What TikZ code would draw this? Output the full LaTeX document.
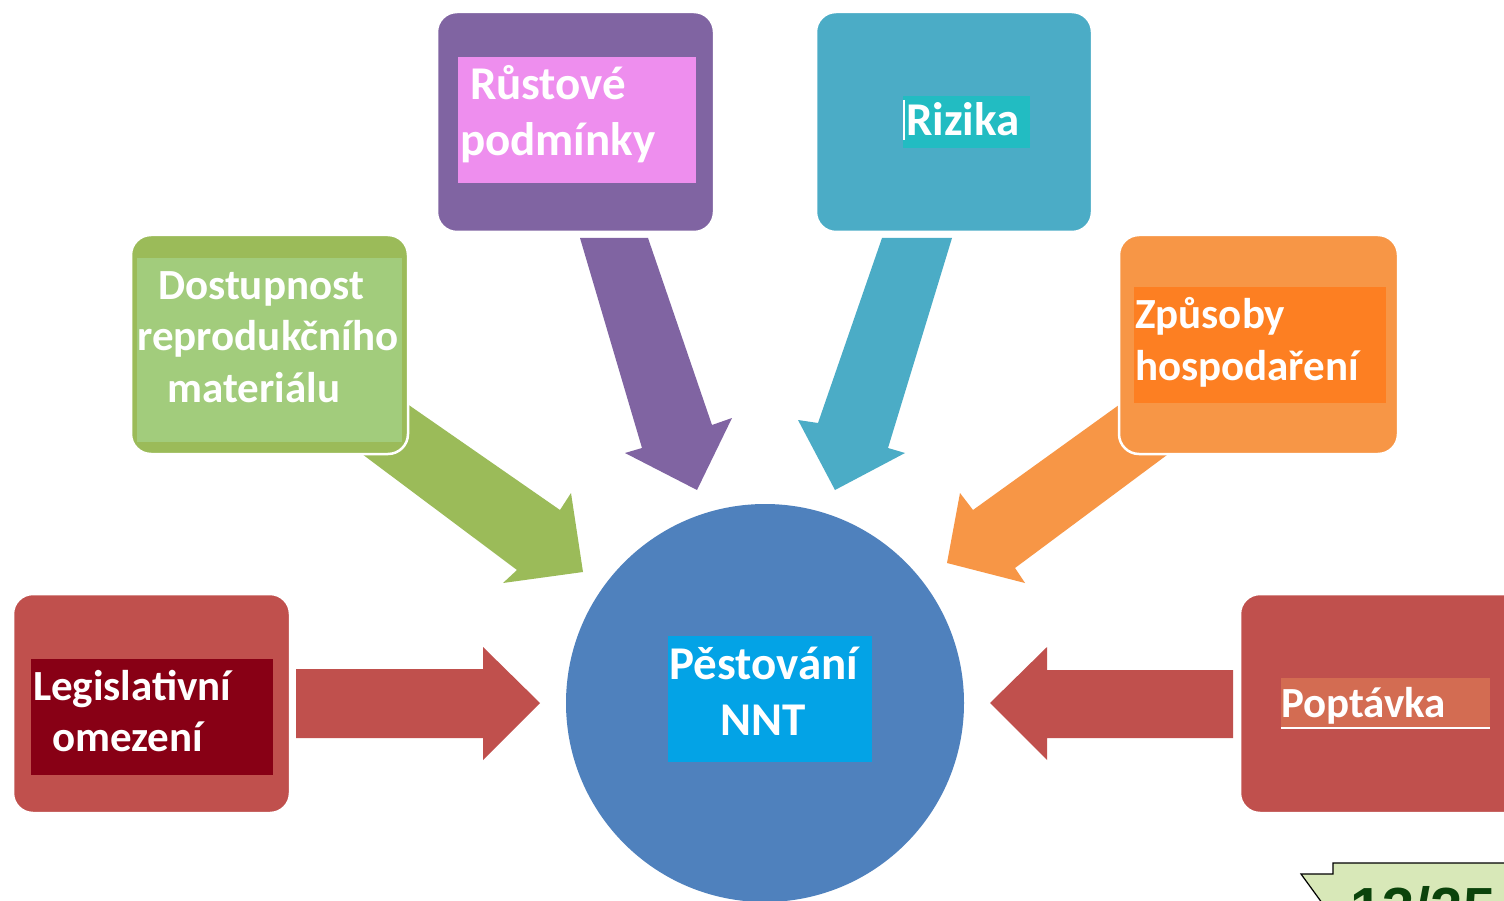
\documentclass[tikz,border=0pt]{standalone}
\usepackage{fontspec}
\setmainfont{Carlito}
\newfontfamily\badgefont{Liberation Sans}
\definecolor{purp}{HTML}{8064A2}
\definecolor{pinkhl}{HTML}{EE8EEE}
\definecolor{cyanb}{HTML}{4BACC6}
\definecolor{tealhl}{HTML}{22BCC2}
\definecolor{greenb}{HTML}{9BBB59}
\definecolor{greenhl}{HTML}{A2CC7C}
\definecolor{orangeb}{HTML}{F79646}
\definecolor{orangehl}{HTML}{FD7F22}
\definecolor{redb}{HTML}{C0504D}
\definecolor{darkredhl}{HTML}{880015}
\definecolor{pophl}{HTML}{D36C52}
\definecolor{circb}{HTML}{4F81BD}
\definecolor{bluehl}{HTML}{03A3E6}
\definecolor{badgefill}{HTML}{D8E8B8}
\definecolor{badgetext}{HTML}{0B430B}
\begin{document}
\begin{tikzpicture}[x=1pt,y=-1pt,
  box/.style={rectangle, rounded corners=20pt, draw=white, line width=2.5pt, inner sep=0pt, outer sep=0pt},
  hl/.style={rectangle, inner sep=0pt, outer sep=0pt},
  lbl/.style={text=white, font=\fontsize{43}{52}\selectfont\bfseries, inner sep=0pt, outer sep=0pt},
  biglbl/.style={lbl, font=\fontsize{47}{56}\selectfont\bfseries}]
\path[use as bounding box] (0,0) rectangle (1504,901);
\clip (0,0) rectangle (1504,901);
\fill[white] (0,0) rectangle (1504,901);

% block arrows
\fill[greenb] (390,392) -- (560,510) -- (571,493) -- (583,572) -- (503,583) -- (517,570) -- (350,445) -- cycle;
\fill[orangeb] (1130,397) -- (973,510) -- (960,493) -- (947,563) -- (1025,583) -- (1015,568) -- (1175,449) -- cycle;
\fill[purp] (580,238) -- (642,448) -- (625,453) -- (697,490) -- (732,418) -- (712,425) -- (648,238) -- cycle;
\fill[cyanb] (882,238) -- (818,423) -- (798,420) -- (835,490) -- (905,453) -- (888,448) -- (952,238) -- cycle;
\fill[redb] (296,669) -- (483,669) -- (483,647) -- (540,703) -- (483,760) -- (483,738) -- (296,738) -- cycle;
\fill[redb] (1233,670) -- (1047,670) -- (1047,647) -- (990,703) -- (1047,760) -- (1047,738) -- (1233,738) -- cycle;

% boxes
\node[box, fill=purp, minimum width=277pt, minimum height=220pt] (growth) at (575.5,122) {};
\node[box, fill=cyanb, minimum width=276pt, minimum height=220pt] (risk) at (954,122) {};
\node[box, fill=greenb, minimum width=277pt, minimum height=219pt] (supply) at (269.5,344.5) {};
\node[box, fill=orangeb, minimum width=279pt, minimum height=219pt] (manage) at (1258.5,344.5) {};
\node[box, fill=redb, minimum width=277pt, minimum height=219pt] (legal) at (151.5,703.5) {};
\node[box, fill=redb, minimum width=290pt, minimum height=219pt] (demand) at (1385,703.5) {};
\node[circle, fill=circb, minimum size=398pt, inner sep=0pt, outer sep=0pt] (nnt) at (765,703) {};

% text highlight backgrounds
\node[hl, fill=pinkhl, minimum width=238pt, minimum height=126pt] (growthbg) at (577,120) {};
\node[hl, fill=tealhl, minimum width=127pt, minimum height=52pt] (riskbg) at (966.5,122) {};
\node[hl, fill=greenhl, minimum width=265pt, minimum height=184pt] (supplybg) at (269.5,350) {};
\node[hl, fill=orangehl, minimum width=252pt, minimum height=116pt] (managebg) at (1260,345) {};
\node[hl, fill=darkredhl, minimum width=242pt, minimum height=116pt] (legalbg) at (152,717) {};
\node[hl, fill=pophl, minimum width=209pt, minimum height=50pt] (demandbg) at (1385.5,703) {};
\node[hl, fill=bluehl, minimum width=204pt, minimum height=126pt] (nntbg) at (770,699) {};
\draw[white, line width=1.5pt] (demandbg.south west) -- (demandbg.south east);
\draw[white, line width=1.2pt] (904,100) -- (904,140);

% labels
\node[biglbl, anchor=base west] (t-growth1) at (470,100) {Růstové};
\node[biglbl, anchor=base west] (t-growth2) at (460,156) {podmínky};
\node[biglbl, anchor=base west] (t-risk) at (906,136) {Rizika};
\node[lbl, anchor=base] (t-supply1) at (261,299) {Dostupnost};
\node[lbl, anchor=base] (t-supply2) at (268,350) {reprodukčního};
\node[lbl, anchor=base] (t-supply3) at (254,402) {materiálu};
\node[lbl, anchor=base west] (t-manage1) at (1135,328) {Způsoby};
\node[lbl, anchor=base west] (t-manage2) at (1135,380) {hospodaření};
\node[lbl, anchor=base west] (t-legal1) at (33,700) {Legislativní};
\node[lbl, anchor=base west] (t-legal2) at (52,751) {omezení};
\node[lbl, anchor=base west] (t-demand) at (1281,717) {Poptávka};
\node[biglbl, anchor=base] (t-nnt1) at (764,679) {Pěstování};
\node[biglbl, anchor=base] (t-nnt2) at (763,735) {NNT};

% page badge
\filldraw[fill=badgefill, draw=black, line width=1.2pt] (1333,874) -- (1333,863) -- (1540,863) -- (1540,940) -- (1349,940) -- (1301,874) -- cycle;
\node[inner sep=0pt, anchor=base west, text=badgetext, font=\badgefont\fontsize{58}{64}\selectfont\bfseries] (badge) at (1350,928) {13/25};
\end{tikzpicture}
\end{document}
